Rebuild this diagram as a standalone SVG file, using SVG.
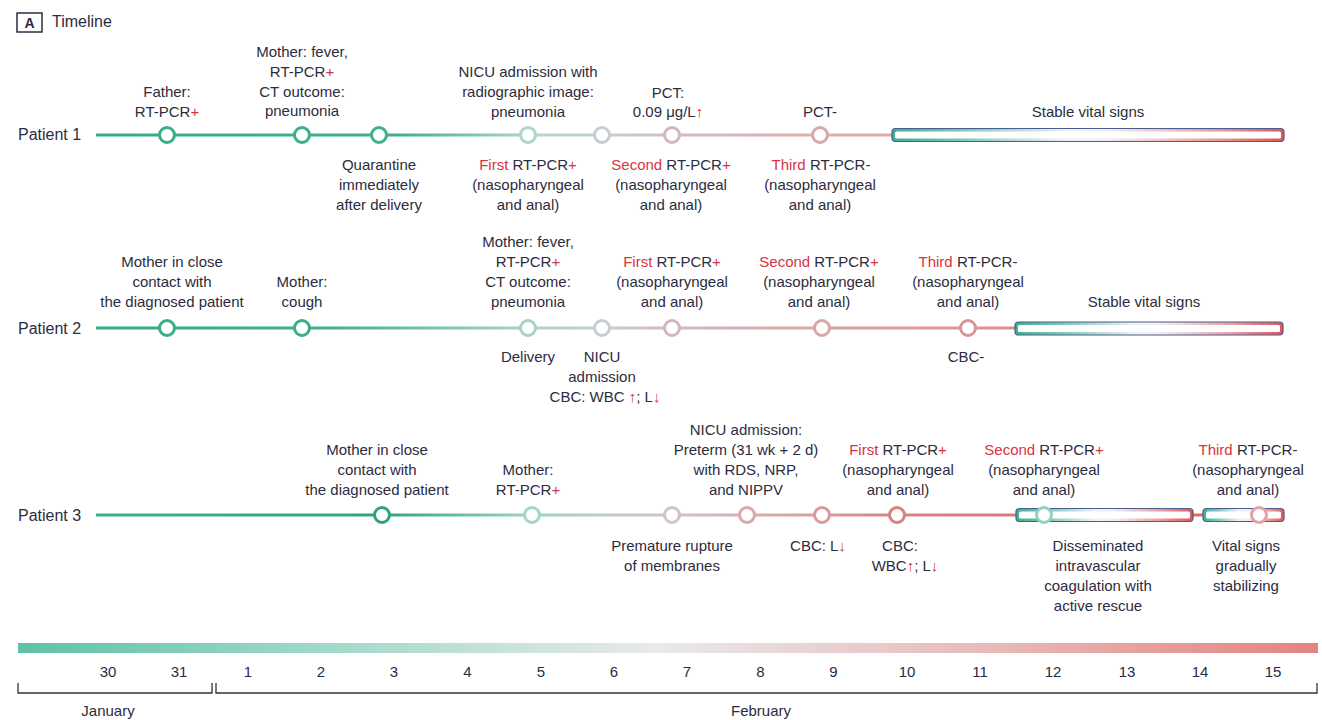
<svg xmlns="http://www.w3.org/2000/svg" width="1322" height="720" viewBox="0 0 1322 720">
<defs>
<style>
text{font-family:"Liberation Sans",Arial,sans-serif;font-size:15px;fill:#2c2c40;text-anchor:middle}
.r{fill:#d8343f}
.pl{font-size:16px;text-anchor:start}
.nd{fill:#fff;stroke-width:3}
.ln{stroke-width:3;fill:none}
.bo{stroke:#4a5d92;stroke-width:1.2;fill:url(#barGrad)}
.bi{fill:#fff;stroke:none}
.ax{stroke:#333;stroke-width:1.3;fill:none}
</style>
<linearGradient id="g1" gradientUnits="userSpaceOnUse" x1="96" y1="0" x2="892" y2="0">
<stop offset="0" stop-color="#35ac88"/><stop offset="0.38" stop-color="#3fb08e"/><stop offset="0.55" stop-color="#b3d6ce"/><stop offset="0.64" stop-color="#c8cdd0"/><stop offset="0.75" stop-color="#d5b9bc"/><stop offset="1" stop-color="#e0a8a8"/>
</linearGradient>
<linearGradient id="g2" gradientUnits="userSpaceOnUse" x1="96" y1="0" x2="1015" y2="0">
<stop offset="0" stop-color="#35ac88"/><stop offset="0.25" stop-color="#3fb08e"/><stop offset="0.47" stop-color="#a9d3c9"/><stop offset="0.55" stop-color="#c8cdd0"/><stop offset="0.63" stop-color="#d3babd"/><stop offset="0.8" stop-color="#d9a3a4"/><stop offset="1" stop-color="#e08e8e"/>
</linearGradient>
<linearGradient id="g3" gradientUnits="userSpaceOnUse" x1="96" y1="0" x2="1203" y2="0">
<stop offset="0" stop-color="#3fb08e"/><stop offset="0.26" stop-color="#2fa580"/><stop offset="0.39" stop-color="#a0d2c4"/><stop offset="0.52" stop-color="#d2c3c6"/><stop offset="0.6" stop-color="#d8aaab"/><stop offset="0.66" stop-color="#db9b9b"/><stop offset="0.72" stop-color="#d98282"/><stop offset="1" stop-color="#e06a6a"/>
</linearGradient>
<linearGradient id="barGrad" x1="0" y1="0" x2="1" y2="0">
<stop offset="0" stop-color="#3db08c"/><stop offset="0.2" stop-color="#86cbb8"/><stop offset="0.45" stop-color="#f2f2f2"/><stop offset="0.55" stop-color="#f2eded"/><stop offset="0.8" stop-color="#e9a2a2"/><stop offset="1" stop-color="#de5555"/>
</linearGradient>
<linearGradient id="axGrad" x1="0" y1="0" x2="1" y2="0">
<stop offset="0" stop-color="#5ec2a7"/><stop offset="0.25" stop-color="#a4dacb"/><stop offset="0.49" stop-color="#e9e9eb"/><stop offset="0.75" stop-color="#e8b9b8"/><stop offset="1" stop-color="#e4837f"/>
</linearGradient>
</defs>
<rect width="1322" height="720" fill="#fff"/>

<g id="header">
<rect x="17" y="13" width="25" height="19" fill="none" stroke="#2c2c40" stroke-width="1.5"/>
<text x="29.5" y="28" style="font-weight:bold;font-size:14px">A</text>
<text x="52" y="27" style="font-size:16px;text-anchor:start">Timeline</text>
</g>

<g id="row-labels">
<text class="pl" x="18" y="140">Patient 1</text>
<text class="pl" x="18" y="334">Patient 2</text>
<text class="pl" x="18" y="521">Patient 3</text>
</g>

<g id="connectors">
<line class="ln" x1="96" y1="135" x2="892" y2="135" stroke="url(#g1)"/>
<line class="ln" x1="96" y1="328" x2="1015" y2="328" stroke="url(#g2)"/>
<line class="ln" x1="96" y1="515" x2="1203" y2="515" stroke="url(#g3)"/>
</g>

<g id="bars">
<g id="p1-stable">
<rect class="bo" x="892" y="128.5" width="392" height="13" rx="3.5"/>
<rect class="bi" x="895" y="131.5" width="386" height="7" rx="1.5"/>
<text x="1088" y="117">Stable vital signs</text>
</g>
<g id="p2-stable">
<rect class="bo" x="1015" y="322" width="268" height="13" rx="3.5"/>
<rect class="bi" x="1018" y="325" width="262" height="7" rx="1.5"/>
<text x="1144" y="307">Stable vital signs</text>
</g>
<g id="p3-dic">
<rect class="bo" x="1016" y="508.5" width="177" height="13" rx="3.5"/>
<rect class="bi" x="1019" y="511.5" width="171" height="7" rx="1.5"/>
<text x="1098" y="551">Disseminated</text>
<text x="1098" y="571">intravascular</text>
<text x="1098" y="591">coagulation with</text>
<text x="1098" y="611">active rescue</text>
</g>
<g id="p3-vital">
<rect class="bo" x="1203" y="508.5" width="81" height="13" rx="3.5"/>
<rect class="bi" x="1206" y="511.5" width="75" height="7" rx="1.5"/>
<text x="1246" y="551">Vital signs</text>
<text x="1246" y="571">gradually</text>
<text x="1246" y="591">stabilizing</text>
</g>
</g>

<g id="p1-father">
<circle class="nd" cx="167" cy="135" r="7.5" stroke="#3aae8b"/>
<text x="167" y="97">Father:</text>
<text x="167" y="117">RT-PCR<tspan class="r">+</tspan></text>
</g>
<g id="p1-mother">
<circle class="nd" cx="302" cy="135" r="7.5" stroke="#3aae8b"/>
<text x="302" y="57">Mother: fever,</text>
<text x="302" y="77">RT-PCR<tspan class="r">+</tspan></text>
<text x="302" y="97">CT outcome:</text>
<text x="302" y="116">pneumonia</text>
</g>
<g id="p1-quarantine">
<circle class="nd" cx="379" cy="135" r="7.5" stroke="#3fb08e"/>
<text x="379" y="170">Quarantine</text>
<text x="379" y="190">immediately</text>
<text x="379" y="210">after delivery</text>
</g>
<g id="p1-nicu">
<circle class="nd" cx="528" cy="135" r="7.5" stroke="#aed4cb"/>
<text x="528" y="77">NICU admission with</text>
<text x="528" y="97">radiographic image:</text>
<text x="528" y="117">pneumonia</text>
<text x="528" y="170"><tspan class="r">First</tspan> RT-PCR<tspan class="r">+</tspan></text>
<text x="528" y="190">(nasopharyngeal</text>
<text x="528" y="210">and anal)</text>
</g>
<g id="p1-n5">
<circle class="nd" cx="602" cy="135" r="7.5" stroke="#c6cdd0"/>
</g>
<g id="p1-pct">
<circle class="nd" cx="672" cy="135" r="7.5" stroke="#d0b8bc"/>
<text x="668" y="98">PCT:</text>
<text x="668" y="117">0.09 μg/L<tspan class="r">↑</tspan></text>
<text x="671" y="170"><tspan class="r">Second</tspan> RT-PCR<tspan class="r">+</tspan></text>
<text x="671" y="190">(nasopharyngeal</text>
<text x="671" y="210">and anal)</text>
</g>
<g id="p1-third">
<circle class="nd" cx="820" cy="135" r="7.5" stroke="#d6a8aa"/>
<text x="820" y="117">PCT-</text>
<text x="821" y="170"><tspan class="r">Third</tspan> RT-PCR-</text>
<text x="820" y="190">(nasopharyngeal</text>
<text x="820" y="210">and anal)</text>
</g>

<g id="p2-contact">
<circle class="nd" cx="167" cy="328" r="7.5" stroke="#3aae8b"/>
<text x="172" y="267">Mother in close</text>
<text x="172" y="287">contact with</text>
<text x="172" y="307">the diagnosed patient</text>
</g>
<g id="p2-cough">
<circle class="nd" cx="302" cy="328" r="7.5" stroke="#3aae8b"/>
<text x="302" y="287">Mother:</text>
<text x="302" y="307">cough</text>
</g>
<g id="p2-delivery">
<circle class="nd" cx="528" cy="328" r="7.5" stroke="#a9d1c8"/>
<text x="528" y="247">Mother: fever,</text>
<text x="528" y="267">RT-PCR<tspan class="r">+</tspan></text>
<text x="528" y="287">CT outcome:</text>
<text x="528" y="307">pneumonia</text>
<text x="528" y="362">Delivery</text>
</g>
<g id="p2-nicu">
<circle class="nd" cx="602" cy="328" r="7.5" stroke="#c6cdd0"/>
<text x="602" y="362">NICU</text>
<text x="602" y="382">admission</text>
<text x="605" y="402">CBC: WBC <tspan class="r">↑</tspan>; L<tspan class="r">↓</tspan></text>
</g>
<g id="p2-first">
<circle class="nd" cx="672" cy="328" r="7.5" stroke="#d2b6ba"/>
<text x="672" y="267"><tspan class="r">First</tspan> RT-PCR<tspan class="r">+</tspan></text>
<text x="672" y="287">(nasopharyngeal</text>
<text x="672" y="307">and anal)</text>
</g>
<g id="p2-second">
<circle class="nd" cx="822" cy="328" r="7.5" stroke="#d9a5a7"/>
<text x="819" y="267"><tspan class="r">Second</tspan> RT-PCR<tspan class="r">+</tspan></text>
<text x="819" y="287">(nasopharyngeal</text>
<text x="819" y="307">and anal)</text>
</g>
<g id="p2-third">
<circle class="nd" cx="968" cy="328" r="7.5" stroke="#da9597"/>
<text x="968" y="267"><tspan class="r">Third</tspan> RT-PCR-</text>
<text x="968" y="287">(nasopharyngeal</text>
<text x="968" y="307">and anal)</text>
<text x="966" y="362">CBC-</text>
</g>

<g id="p3-contact">
<circle class="nd" cx="382" cy="515" r="7.5" stroke="#2ea27f"/>
<text x="377" y="455">Mother in close</text>
<text x="377" y="475">contact with</text>
<text x="377" y="495">the diagnosed patient</text>
</g>
<g id="p3-mother">
<circle class="nd" cx="532" cy="515" r="7.5" stroke="#a3d5c8"/>
<text x="528" y="475">Mother:</text>
<text x="528" y="495">RT-PCR<tspan class="r">+</tspan></text>
</g>
<g id="p3-rupture">
<circle class="nd" cx="672" cy="515" r="7.5" stroke="#d4c2c5"/>
<text x="672" y="551">Premature rupture</text>
<text x="672" y="571">of membranes</text>
</g>
<g id="p3-nicu">
<circle class="nd" cx="747" cy="515" r="7.5" stroke="#d8a9ab"/>
<text x="746" y="435">NICU admission:</text>
<text x="746" y="455">Preterm (31 wk + 2 d)</text>
<text x="746" y="475">with RDS, NRP,</text>
<text x="746" y="495">and NIPPV</text>
</g>
<g id="p3-cbc1">
<circle class="nd" cx="822" cy="515" r="7.5" stroke="#db9a9a"/>
<text x="818" y="551">CBC: L<tspan class="r">↓</tspan></text>
</g>
<g id="p3-first">
<circle class="nd" cx="897" cy="515" r="7.5" stroke="#d98080"/>
<text x="898" y="455"><tspan class="r">First</tspan> RT-PCR<tspan class="r">+</tspan></text>
<text x="898" y="475">(nasopharyngeal</text>
<text x="898" y="495">and anal)</text>
<text x="900" y="551">CBC:</text>
<text x="905" y="571">WBC<tspan class="r">↑</tspan>; L<tspan class="r">↓</tspan></text>
</g>
<g id="p3-second">
<circle class="nd" cx="1044" cy="515" r="7.5" stroke="#92d1bf"/>
<text x="1044" y="455"><tspan class="r">Second</tspan> RT-PCR<tspan class="r">+</tspan></text>
<text x="1044" y="475">(nasopharyngeal</text>
<text x="1044" y="495">and anal)</text>
</g>
<g id="p3-third">
<circle class="nd" cx="1259" cy="515" r="7.5" stroke="#e2a3a3"/>
<text x="1248" y="455"><tspan class="r">Third</tspan> RT-PCR-</text>
<text x="1248" y="475">(nasopharyngeal</text>
<text x="1248" y="495">and anal)</text>
</g>

<g id="axis">
<rect x="18" y="643" width="1300" height="10" fill="url(#axGrad)"/>
<text x="108" y="677">30</text>
<text x="179" y="677">31</text>
<text x="248" y="677">1</text>
<text x="321" y="677">2</text>
<text x="394" y="677">3</text>
<text x="467.5" y="677">4</text>
<text x="541" y="677">5</text>
<text x="614" y="677">6</text>
<text x="687" y="677">7</text>
<text x="760.5" y="677">8</text>
<text x="833.5" y="677">9</text>
<text x="907" y="677">10</text>
<text x="980" y="677">11</text>
<text x="1053" y="677">12</text>
<text x="1127" y="677">13</text>
<text x="1200" y="677">14</text>
<text x="1273" y="677">15</text>
<path class="ax" d="M18 683 V693 H212 V683"/>
<path class="ax" d="M216 683 V693 H1317 V683"/>
<text x="108" y="716">January</text>
<text x="761" y="716">February</text>
</g>
</svg>
